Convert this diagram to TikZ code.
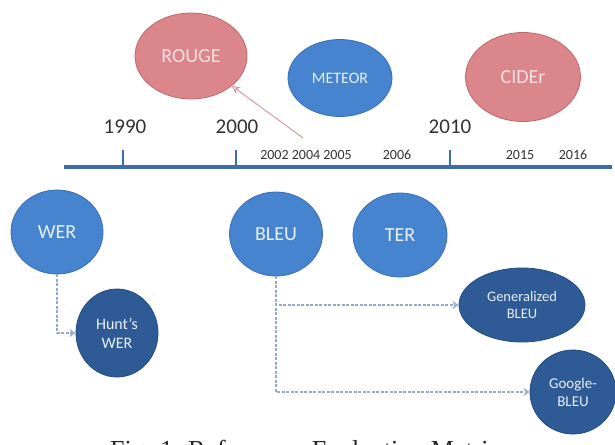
\documentclass[tikz,border=0pt]{standalone}
\usepackage{fontspec}
\setmainfont{Carlito}
\newfontfamily\capfont{Liberation Serif}
\usetikzlibrary{shapes.geometric,arrows.meta}
\definecolor{lblue}{RGB}{70,132,208}
\definecolor{lblueb}{RGB}{60,112,180}
\definecolor{dblue}{RGB}{46,90,150}
\definecolor{dblueb}{RGB}{38,76,128}
\definecolor{pinkf}{RGB}{218,134,138}
\definecolor{pinkb}{RGB}{190,104,110}
\definecolor{tline}{RGB}{60,108,172}
\definecolor{dashc}{RGB}{150,168,205}
\definecolor{yeartxt}{RGB}{50,50,50}
\definecolor{ptxt}{RGB}{246,224,226}
\definecolor{btxt}{RGB}{232,240,250}
\tikzset{
  metric/.style={ellipse, inner sep=0pt, draw=lblueb, line width=0.8pt, fill=lblue, text=btxt, align=center},
  darkmetric/.style={ellipse, inner sep=0pt, draw=dblueb, line width=0.8pt, fill=dblue, text=btxt, align=center},
  pinkmetric/.style={ellipse, inner sep=0pt, draw=pinkb, line width=0.8pt, fill=pinkf, text=ptxt, align=center},
  bigyear/.style={text=yeartxt, font=\fontsize{21}{23}\selectfont, inner sep=0pt},
  smallyear/.style={text=yeartxt, font=\fontsize{14}{16}\selectfont, inner sep=0pt},
  tickmark/.style={draw=tline, line width=1.6pt},
  dashconn/.style={draw=dashc, line width=2.4pt, dash pattern=on 3pt off 1.5pt, -{Stealth[open, length=6pt, width=8pt, line width=1pt]}},
  pinkarrow/.style={draw=pinkb!70!white, line width=0.9pt, -{Stealth[open, length=8pt, width=8pt]}}
}
\begin{document}
\begin{tikzpicture}[x=1pt, y=-1pt]
\useasboundingbox (0,0) rectangle (615,444);
\fill[white] (0,0) rectangle (615,444);

% timeline
\coordinate (tl0) at (64,167);
\coordinate (tl1) at (612,167);
\draw[draw=tline, line width=4pt] (tl0) -- (tl1);
\coordinate (t1) at (123,150);
\coordinate (t1b) at (123,167);
\coordinate (t2) at (236,150);
\coordinate (t2b) at (236,167);
\coordinate (t3) at (450,150);
\coordinate (t3b) at (450,167);
\draw[tickmark] (t1) -- (t1b);
\draw[tickmark] (t2) -- (t2b);
\draw[tickmark] (t3) -- (t3b);

\node[bigyear] (y1990) at (125,127) {1990};
\node[bigyear] (y2000) at (237,127) {2000};
\node[bigyear] (y2010) at (450,127) {2010};
\node[smallyear] (s1) at (306,155) {2002 2004 2005};
\node[smallyear] (s2) at (397,155) {2006};
\node[smallyear] (s3) at (520,155) {2015};
\node[smallyear] (s4) at (573,155) {2016};

% top metrics
\node[pinkmetric, minimum width=112pt, minimum height=86pt, font=\fontsize{20}{22}\selectfont] (rouge) at (191,56) {ROUGE};
\node[metric, minimum width=104pt, minimum height=77pt, font=\fontsize{16}{18}\selectfont] (meteor) at (340,78) {METEOR};
\node[pinkmetric, minimum width=115pt, minimum height=89pt, font=\fontsize{20}{22}\selectfont] (cider) at (523,77) {CIDEr};

\coordinate (rs) at (303,138);
\draw[pinkarrow] (rs) -- (rouge);

% bottom metrics
\node[metric, minimum width=92pt, minimum height=84pt, font=\fontsize{20}{22}\selectfont] (wer) at (57,232) {WER};
\node[metric, minimum width=93pt, minimum height=84pt, font=\fontsize{20}{22}\selectfont] (bleu) at (276,234) {BLEU};
\node[metric, minimum width=94pt, minimum height=84pt, font=\fontsize{20}{22}\selectfont] (ter) at (400,235) {TER};
\node[darkmetric, minimum width=82pt, minimum height=88pt, font=\fontsize{16}{19}\selectfont] (hunt) at (117,333) {Hunt's\\WER};
\node[darkmetric, minimum width=126pt, minimum height=74pt, font=\fontsize{14.5}{17}\selectfont] (gen) at (522,305) {Generalized\\BLEU};
\node[darkmetric, minimum width=86pt, minimum height=84pt, font=\fontsize{15}{18}\selectfont] (goog) at (573,392) {Google-\\BLEU};

\draw[dashconn] (wer.south) |- (hunt.west);
\draw[dashconn] (bleu.south) |- (gen.west);
\draw[dashconn] (bleu.south) |- (goog.west);

% caption (only its top shows, as in the reference)
\begin{scope}
\clip (0,0) rectangle (615,444);
\node[anchor=base west, inner sep=0pt, text=black!85, font=\capfont\fontsize{26}{28}\selectfont] (cap) at (110,458) {Fig. 1. Reference\hspace{0.7em}Evaluation Metrics};
\end{scope}
\end{tikzpicture}
\end{document}
